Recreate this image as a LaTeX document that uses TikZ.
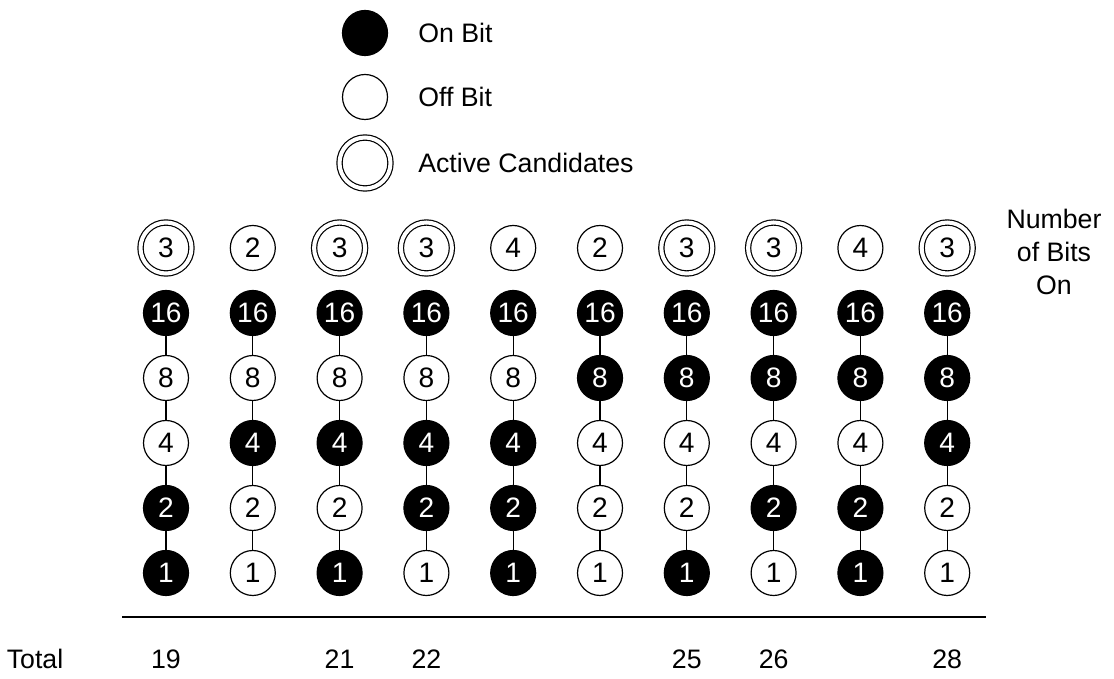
\documentclass[tikz,border=0pt]{standalone}
\usepackage{fontspec}
\setmainfont{Liberation Sans}
\usepackage{tikz}
\usetikzlibrary{positioning}
\newcommand{\bitsize}{\fontsize{20}{24}\selectfont}
\newcommand{\lblsize}{\fontsize{19}{23.5}\selectfont}
\tikzset{
    bitnode/.style={circle, draw, line width=0.85pt, minimum size=1.125cm, inner sep=0pt, font=\bitsize},
    onbit/.style={bitnode, fill=black, text=white},
    offbit/.style={bitnode, fill=white},
    countbit/.style={bitnode},
    activebit/.style={bitnode, double, double distance=0.1cm, minimum size=1.275cm},
    link/.style={line width=0.8pt},
    lbl/.style={font=\lblsize, inner sep=0pt},
}

\begin{document}
\begin{tikzpicture}
    \useasboundingbox (0,0) rectangle (27.85,16.975);
    % legend
    \node[onbit]     (lon)  at (9.125,16.15) {};
    \node[offbit]    (loff) at (9.125,14.55) {};
    \node[activebit] (lact) at (9.125,12.9)  {};
    \node[lbl, anchor=west] (lontxt)  at (10.45,16.15) {On Bit};
    \node[lbl, anchor=west] (lofftxt) at (10.45,14.55) {Off Bit};
    \node[lbl, anchor=west] (lacttxt) at (10.45,12.9)  {Active Candidates};
    \node[lbl, align=center] (nbits) at (26.35,10.675) {Number\\of Bits\\On};
    % columns: count / 16 / 8 / 4 / 2 / 1
    \foreach \cnt/\cs/\a/\b/\c/\d/\e [count=\i, evaluate=\i as \x using 4.15+2.17*(\i-1)] in {
        3/activebit/onbit/offbit/offbit/onbit/onbit,
        2/countbit/onbit/offbit/onbit/offbit/offbit,
        3/activebit/onbit/offbit/onbit/offbit/onbit,
        3/activebit/onbit/offbit/onbit/onbit/offbit,
        4/countbit/onbit/offbit/onbit/onbit/onbit,
        2/countbit/onbit/onbit/offbit/offbit/offbit,
        3/activebit/onbit/onbit/offbit/offbit/onbit,
        3/activebit/onbit/onbit/offbit/onbit/offbit,
        4/countbit/onbit/onbit/offbit/onbit/onbit,
        3/activebit/onbit/onbit/onbit/offbit/offbit}{
        \node[\cs] (n\i)    at (\x,10.775) {\cnt};
        \node[\a]  (b\i-16) at (\x,9.15)   {16};
        \node[\b]  (b\i-8)  at (\x,7.525)  {8};
        \node[\c]  (b\i-4)  at (\x,5.9)    {4};
        \node[\d]  (b\i-2)  at (\x,4.275)  {2};
        \node[\e]  (b\i-1)  at (\x,2.65)   {1};
        \draw[link] (b\i-16) -- (b\i-8) -- (b\i-4) -- (b\i-2) -- (b\i-1);
    }
    % totals
    \coordinate (rulel) at (3.05,1.55);
    \coordinate (ruler) at (24.65,1.55);
    \draw[line width=1.1pt] (rulel) -- (ruler);
    \node[lbl, anchor=base] (total) at (0.875,0.25) {Total};
    \node[lbl, anchor=base] (t19) at (4.15,0.25)  {19};
    \node[lbl, anchor=base] (t21) at (8.49,0.25)  {21};
    \node[lbl, anchor=base] (t22) at (10.66,0.25) {22};
    \node[lbl, anchor=base] (t25) at (17.17,0.25) {25};
    \node[lbl, anchor=base] (t26) at (19.34,0.25) {26};
    \node[lbl, anchor=base] (t28) at (23.68,0.25) {28};
\end{tikzpicture}
\end{document}
